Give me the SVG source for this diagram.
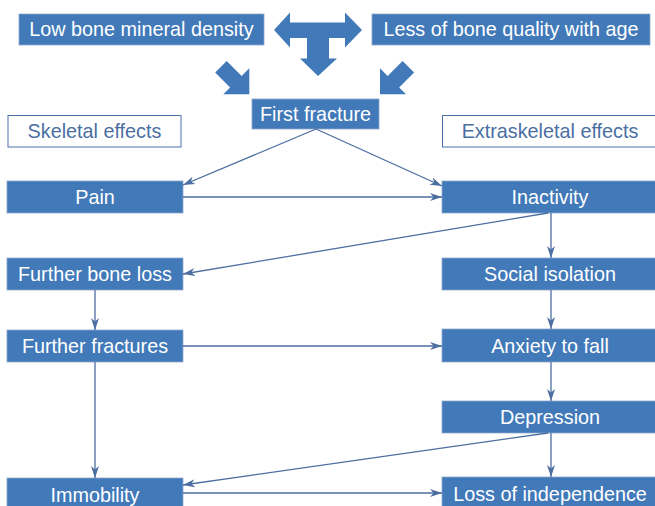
<svg xmlns="http://www.w3.org/2000/svg" width="655" height="506" viewBox="0 0 655 506">
<style>
.box{fill:#4179b9;stroke:#8ea9cc;stroke-width:0.8}
.obox{fill:#ffffff;stroke:#4a72a8;stroke-width:1}
.t{font-family:"Liberation Sans",Arial,sans-serif;font-size:19.8px;fill:#ffffff;text-anchor:middle}
.ot{fill:#4a6fa3}
.bigarrow{fill:#4179b9}
.conn line{stroke:#4d6ea0;stroke-width:1.3;fill:none;marker-end:url(#ah)}
</style>
<defs>
<marker id="ah" markerUnits="userSpaceOnUse" markerWidth="13" markerHeight="9" refX="12" refY="4.5" orient="auto">
<path d="M0,0.5 L12,4.5 L0,8.5 L3.5,4.5 z" fill="#4d6ea0"/>
</marker>
</defs>
<rect width="655" height="506" fill="#ffffff"/>

<g id="low-bmd"><rect class="box" x="19" y="14" width="245" height="31"/><text class="t" x="141.5" y="36">Low bone mineral density</text></g>
<g id="less-quality"><rect class="box" x="372" y="14" width="278" height="31"/><text class="t" x="511" y="36">Less of bone quality with age</text></g>

<g id="t-arrow"><path class="bigarrow" d="M274,30 L290,12.5 L290,22.5 L345,22.5 L345,12.5 L362,30 L345,47.5 L345,38 L329,38 L329,58.5 L337,58.5 L318,76 L300,58.5 L307,58.5 L307,38 L290,38 L290,47.5 z"/></g>
<g id="arrow-left"><path class="bigarrow" d="M226.7,61 L241.65,75.95 L249.3,68.3 L249.3,94.3 L223.3,94.3 L230.15,87.45 L215.2,72.5 z"/></g>
<g id="arrow-right"><path class="bigarrow" d="M402.6,61 L387.65,75.95 L380,68.3 L380,94.3 L406,94.3 L399.15,87.45 L414.1,72.5 z"/></g>

<g id="first-fracture"><rect class="box" x="252" y="99" width="127" height="30"/><text class="t" x="315.5" y="121">First fracture</text></g>

<g id="skeletal"><rect class="obox" x="8" y="115.5" width="173" height="31.5"/><text class="t ot" x="94.5" y="138">Skeletal effects</text></g>
<g id="extraskeletal"><rect class="obox" x="442.5" y="115.5" width="216" height="31.5"/><text class="t ot" x="550" y="138">Extraskeletal effects</text></g>

<g id="pain"><rect class="box" x="7" y="181" width="176" height="32"/><text class="t" x="95" y="204">Pain</text></g>
<g id="inactivity"><rect class="box" x="442" y="181" width="216" height="32"/><text class="t" x="550" y="204">Inactivity</text></g>
<g id="further-bone-loss"><rect class="box" x="7" y="258" width="176" height="32"/><text class="t" x="95" y="281">Further bone loss</text></g>
<g id="social-isolation"><rect class="box" x="442" y="258" width="216" height="32"/><text class="t" x="550" y="281">Social isolation</text></g>
<g id="further-fractures"><rect class="box" x="7" y="330" width="176" height="32"/><text class="t" x="95" y="353">Further fractures</text></g>
<g id="anxiety"><rect class="box" x="442" y="329" width="216" height="33"/><text class="t" x="550" y="352.5">Anxiety to fall</text></g>
<g id="depression"><rect class="box" x="442" y="401" width="216" height="32"/><text class="t" x="550" y="424">Depression</text></g>
<g id="immobility"><rect class="box" x="7" y="478" width="176" height="33"/><text class="t" x="95" y="501.5">Immobility</text></g>
<g id="loss-independence"><rect class="box" x="442" y="477" width="216" height="34"/><text class="t" x="550" y="500.5">Loss of independence</text></g>

<g id="connectors" class="conn">
<line x1="316" y1="129" x2="183" y2="185"/>
<line x1="316" y1="129" x2="442" y2="186"/>
<line x1="183" y1="197" x2="442" y2="197"/>
<line x1="548" y1="213" x2="183" y2="274"/>
<line x1="551" y1="213" x2="551" y2="258"/>
<line x1="95" y1="290" x2="95" y2="330"/>
<line x1="551" y1="290" x2="551" y2="329"/>
<line x1="183" y1="346" x2="442" y2="346"/>
<line x1="95" y1="362" x2="95" y2="478"/>
<line x1="551" y1="362" x2="551" y2="401"/>
<line x1="548" y1="433" x2="183" y2="485"/>
<line x1="551" y1="433" x2="551" y2="477"/>
<line x1="183" y1="493" x2="442" y2="493"/>
</g>
</svg>
